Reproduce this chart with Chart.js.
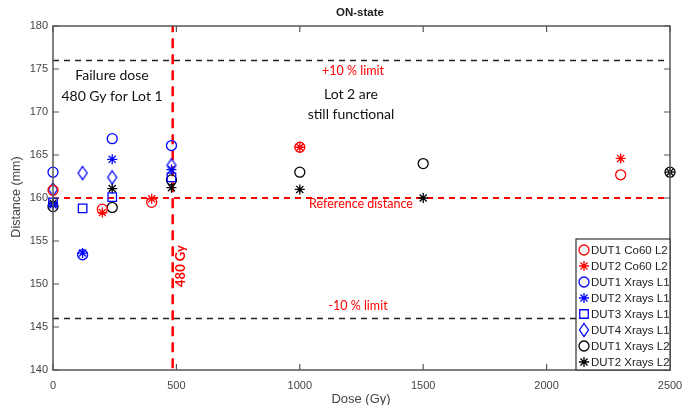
<!DOCTYPE html>
<html>
<head>
<meta charset="utf-8">
<script src="https://cdn.jsdelivr.net/npm/chart.js@4.4.1/dist/chart.umd.min.js"></script>
<style>
  html, body { margin: 0; padding: 0; background: #fff; }
  #c { display: block; }
</style>
</head>
<body>
<canvas id="c" width="697" height="405"></canvas>
<script>
// --- data ---
const co60Dut1Dose = [0, 200, 400, 1000, 2300];
const co60Dut1Dist = [160.9, 158.7, 159.5, 165.9, 162.7];
const co60Dut2Dose = [200, 400, 1000, 2300];
const co60Dut2Dist = [158.3, 159.9, 165.9, 164.6];

const l1Dose = [0, 120, 240, 480];
const xrDut1L1 = [163.0, 153.4, 166.9, 166.1];
const xrDut2L1 = [159.2, 153.6, 164.5, 163.3];
const xrDut3L1 = [159.5, 158.8, 160.1, 162.4];
const xrDut4L1 = [161.0, 162.9, 162.4, 163.8];

const l2Dose = [0, 240, 480, 1000, 1500, 2500];
const xrDut1L2 = [159.0, 158.9, 162.1, 163.0, 164.0, 163.0];
const xrDut2L2 = [159.4, 161.1, 161.2, 161.0, 160.0, 163.0];

const upperLimit = 176;
const refDistance = 160;
const lowerLimit = 146;
const failureDose = 485;

const xTicks = [0, 500, 1000, 1500, 2000, 2500];
const yTicks = [140, 145, 150, 155, 160, 165, 170, 175, 180];

const pts = (xs, ys) => xs.map((x, i) => ({ x: x, y: ys[i] }));

// matlab-like diamond (taller than wide)
function diamond(color) {
  const c = document.createElement('canvas');
  c.width = 12; c.height = 16;
  const g = c.getContext('2d');
  g.strokeStyle = color; g.lineWidth = 1.3;
  g.beginPath();
  g.moveTo(6, 1.5); g.lineTo(10.5, 8); g.lineTo(6, 14.5); g.lineTo(1.5, 8); g.closePath();
  g.stroke();
  return c;
}

function series(label, xs, ys, color, style, r) {
  return {
    label: label, data: pts(xs, ys), pointStyle: style, pointRadius: r,
    pointBorderColor: color, pointBackgroundColor: 'rgba(0,0,0,0)',
    borderColor: color, backgroundColor: 'rgba(0,0,0,0)',
    pointBorderWidth: 1.3, showLine: false, clip: false, order: 1, legend: true
  };
}
function refLine(data, color, dash, width) {
  return {
    label: '', data: data, showLine: true, pointRadius: 0, borderColor: color,
    borderDash: dash, borderWidth: width, clip: false, order: 10, legend: false
  };
}

const datasets = [
  series('DUT1 Co60 L2', co60Dut1Dose, co60Dut1Dist, '#ff0000', 'circle', 5),
  series('DUT2 Co60 L2', co60Dut2Dose, co60Dut2Dist, '#ff0000', 'star', 5),
  series('DUT1 Xrays L1', l1Dose, xrDut1L1, '#0000ff', 'circle', 5),
  series('DUT2 Xrays L1', l1Dose, xrDut2L1, '#0000ff', 'star', 5),
  series('DUT3 Xrays L1', l1Dose, xrDut3L1, '#0000ff', 'rect', 6),
  series('DUT4 Xrays L1', l1Dose, xrDut4L1, '#0000ff', diamond('#0000ff'), 6),
  series('DUT1 Xrays L2', l2Dose, xrDut1L2, '#000000', 'circle', 5),
  series('DUT2 Xrays L2', l2Dose, xrDut2L2, '#000000', 'star', 5),
  refLine([{x: 0, y: upperLimit}, {x: 2480, y: upperLimit}], '#222', [6, 5], 1.5),
  refLine([{x: 0, y: lowerLimit}, {x: 2480, y: lowerLimit}], '#222', [6, 5], 1.5),
  refLine([{x: 0, y: refDistance}, {x: 2500, y: refDistance}], '#ff0000', [6, 5], 2),
  refLine([{x: failureDose, y: 140.2}, {x: failureDose, y: 180}], '#ff0000', [10, 6], 2.5)
];

function text(ctx, s, x, y, font, color, align) {
  ctx.font = font; ctx.fillStyle = color;
  ctx.textAlign = align || 'center'; ctx.textBaseline = 'middle';
  ctx.fillText(s, x, y);
}

const decor = {
  id: 'decor',
  afterDraw(chart) {
    const ctx = chart.ctx, a = chart.chartArea;
    const xs = chart.scales.x, ys = chart.scales.y;
    ctx.save();
    // axes box + inward ticks
    ctx.strokeStyle = '#555'; ctx.lineWidth = 1.5; ctx.setLineDash([]);
    ctx.strokeRect(a.left, a.top, a.right - a.left, a.bottom - a.top);
    ctx.lineWidth = 1.2;
    ctx.beginPath();
    for (const v of xTicks) {
      const px = xs.getPixelForValue(v);
      ctx.moveTo(px, a.bottom); ctx.lineTo(px, a.bottom - 6);
      ctx.moveTo(px, a.top); ctx.lineTo(px, a.top + 6);
    }
    for (const v of yTicks) {
      const py = ys.getPixelForValue(v);
      ctx.moveTo(a.left, py); ctx.lineTo(a.left + 6, py);
      ctx.moveTo(a.right, py); ctx.lineTo(a.right - 6, py);
    }
    ctx.stroke();

    // titles
    text(ctx, 'ON-state', 360, 13, 'bold 11.5px Arial, "Liberation Sans"', '#222');
    text(ctx, 'Dose (Gy)', 361, 399, '13px Arial, "Liberation Sans"', '#444');
    ctx.save();
    ctx.translate(17, 197); ctx.rotate(-Math.PI / 2);
    text(ctx, 'Distance (mm)', 0, 0, '12.5px Arial, "Liberation Sans"', '#444');
    ctx.restore();

    // annotations
    const cal = '14px Lato, "Open Sans", sans-serif';
    text(ctx, 'Failure dose', 112, 75, cal, '#111');
    text(ctx, '480 Gy for Lot 1', 112, 96, cal, '#111');
    text(ctx, 'Lot 2 are', 351, 94, cal, '#111');
    text(ctx, 'still functional', 351, 114, cal, '#111');
    const red = '12.5px Lato, "Open Sans", sans-serif';
    text(ctx, '+10 % limit', 353, 71, red, '#ff0000');
    text(ctx, 'Reference distance', 361, 204, red, '#ff0000');
    text(ctx, '-10 % limit', 358, 306, red, '#ff0000');
    ctx.save();
    ctx.translate(181, 266); ctx.rotate(-Math.PI / 2);
    text(ctx, '480 Gy', 0, 0, 'bold 13px Lato, "Open Sans", sans-serif', '#ff0000');
    ctx.restore();

    // legend box
    const lx = 576, ly = 239, lw = 94, lh = 131;
    ctx.fillStyle = '#fff';
    ctx.fillRect(lx, ly, lw, lh);
    ctx.strokeStyle = '#333'; ctx.lineWidth = 1.2;
    ctx.strokeRect(lx, ly, lw, lh);
    const items = chart.data.datasets.filter(d => d.legend);
    items.forEach((d, i) => {
      const y = ly + 11 + i * 16;
      ctx.strokeStyle = d.pointBorderColor; ctx.fillStyle = 'rgba(0,0,0,0)';
      ctx.lineWidth = 1.3;
      Chart.helpers.drawPoint(ctx, { pointStyle: d.pointStyle, radius: d.pointRadius, rotation: 0, borderWidth: 1.3 }, 584, y);
      text(ctx, d.label, 591, y + 0.5, '11.5px Arial, "Liberation Sans"', '#222', 'left');
    });
    ctx.restore();
  }
};

new Chart(document.getElementById('c'), {
  type: 'scatter',
  data: { datasets: datasets },
  options: {
    responsive: false,
    animation: false,
    devicePixelRatio: 1,
    layout: { padding: { top: 26, right: 27, left: 0, bottom: 0 } },
    plugins: { legend: { display: false }, tooltip: { enabled: false } },
    scales: {
      x: {
        type: 'linear', min: 0, max: 2500,
        afterFit: s => { s.height = 35; },
        afterBuildTicks: s => { s.ticks = xTicks.map(v => ({ value: v })); },
        grid: { display: false, drawTicks: false },
        border: { display: false },
        ticks: { padding: 9, color: '#444', font: { family: 'Arial, "Liberation Sans"', size: 11 }, maxRotation: 0, callback: v => String(v) }
      },
      y: {
        type: 'linear', min: 140, max: 180,
        afterFit: s => { s.width = 53; },
        afterBuildTicks: s => { s.ticks = yTicks.map(v => ({ value: v })); },
        grid: { display: false, drawTicks: false },
        border: { display: false },
        ticks: { padding: 5, color: '#444', font: { family: 'Arial, "Liberation Sans"', size: 11 }, callback: v => String(v) }
      }
    }
  },
  plugins: [decor]
});
</script>
</body>
</html>
